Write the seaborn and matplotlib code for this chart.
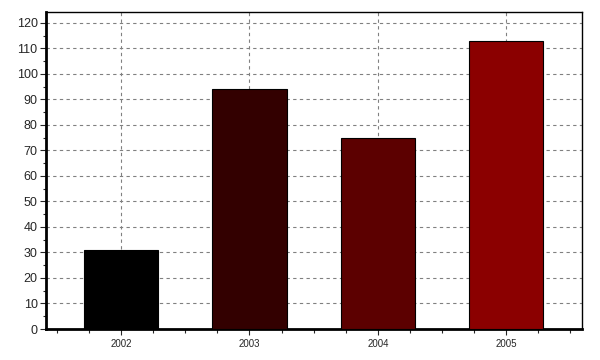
import matplotlib
matplotlib.use("Agg")
import matplotlib.pyplot as plt
import seaborn as sns
import pandas as pd
from matplotlib.ticker import MultipleLocator

years = ["2002", "2003", "2004", "2005"]
values = [31, 94, 75, 113]
colors = ["#000000", "#330000", "#5c0000", "#8b0000"]

df = pd.DataFrame({"year": years, "value": values})

sns.set_style("white")
plt.rcParams['font.family'] = ['Liberation Sans', 'DejaVu Sans']

fig = plt.figure(figsize=(6, 3.6), dpi=100)
ax = fig.add_axes([46/600, 1 - 329/360, (582-46)/600, (329-12)/360])

sns.barplot(data=df, x="year", y="value", hue="year", palette=colors,
            saturation=1, width=0.58, edgecolor="black", linewidth=0.8,
            legend=False, ax=ax, zorder=3)

ax.set_ylim(0, 124.3)
ax.set_xlim(-0.585, 3.59)
ax.yaxis.set_major_locator(MultipleLocator(10))
ax.yaxis.set_minor_locator(MultipleLocator(5))
ax.xaxis.set_minor_locator(MultipleLocator(0.25))
ax.grid(True, which="major", color="#808080", linestyle=(0, (3, 3)), linewidth=0.8, zorder=0)
ax.set_axisbelow(True)
ax.set_xlabel("")
ax.set_ylabel("")
ax.tick_params(axis="y", which="major", length=4, width=0.8, labelsize=9, pad=2, left=True)
ax.tick_params(axis="y", which="minor", length=2, width=0.8, left=True)
ax.tick_params(axis="x", which="major", length=4, width=0.8, labelsize=7, pad=3, bottom=True)
ax.tick_params(axis="x", which="minor", length=3, width=0.8, bottom=True)
for s in ["top", "right"]:
    ax.spines[s].set_linewidth(1.0)
    ax.spines[s].set_color("black")
for s in ["left", "bottom"]:
    ax.spines[s].set_linewidth(2.0)
    ax.spines[s].set_color("black")

fig.savefig("out.png", dpi=100)
